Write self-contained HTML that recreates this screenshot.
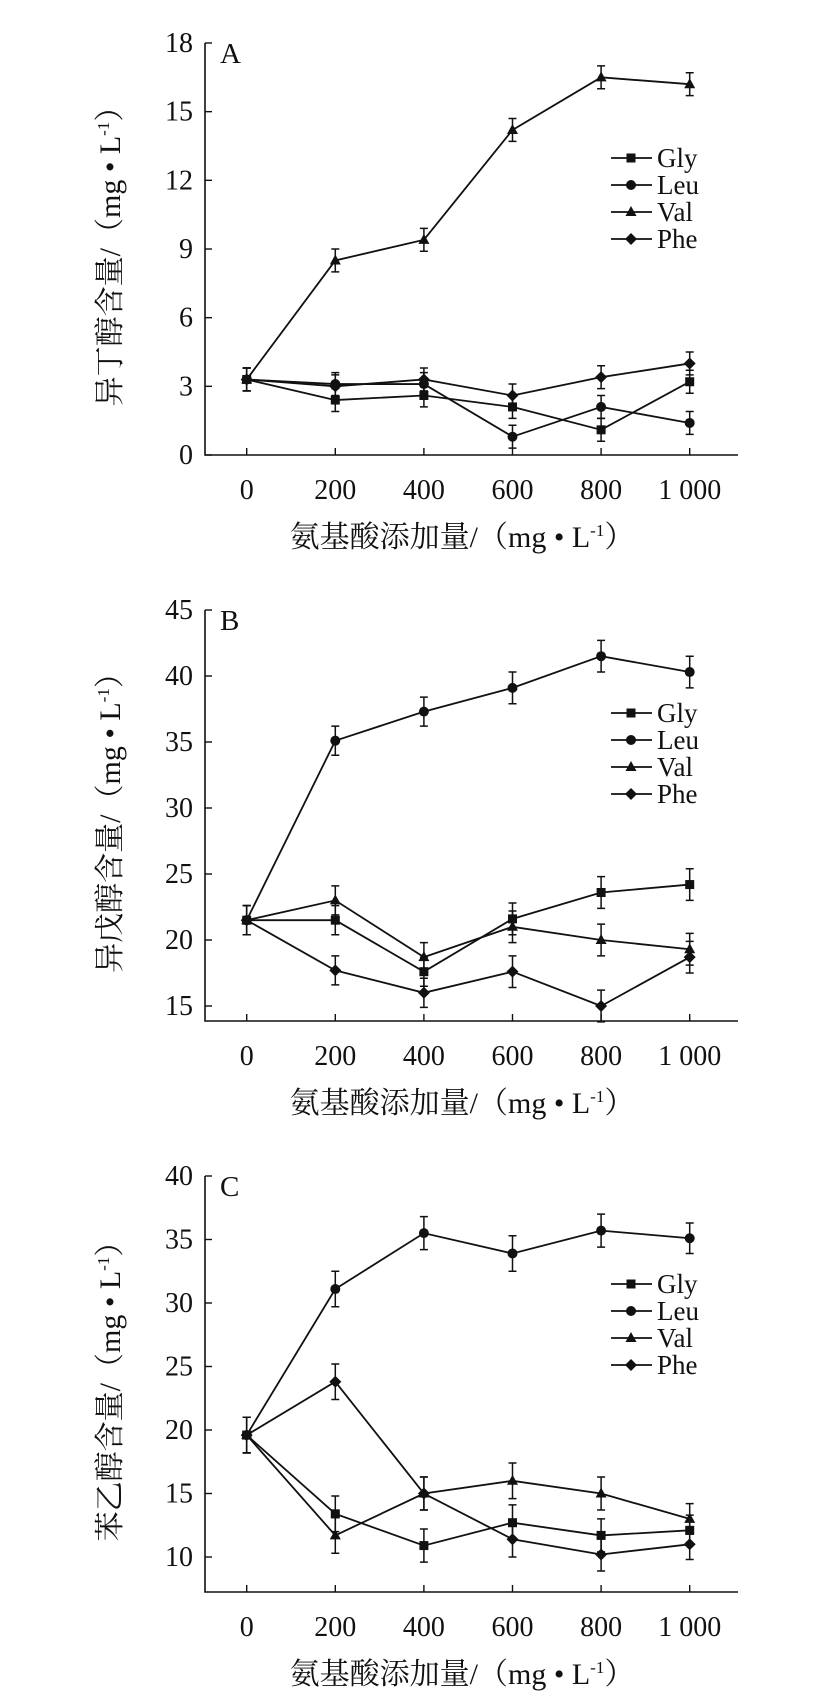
<!DOCTYPE html>
<html><head><meta charset="utf-8"><style>
body{margin:0;background:#fff}
svg text{font-family:"Liberation Serif","Noto Serif CJK SC",serif;fill:#111}
</style></head><body>
<svg id="s" width="820" height="1698" xmlns="http://www.w3.org/2000/svg"></svg>
<script>
const categories=[0,200,400,600,800,1000];
const tickLabelsX=["0","200","400","600","800","1 000"];
const seriesNames=["Gly","Leu","Val","Phe"];
const aGly=[3.3,2.4,2.6,2.1,1.1,3.2];
const aLeu=[3.3,3.1,3.1,0.8,2.1,1.4];
const aVal=[3.3,8.5,9.4,14.2,16.5,16.2];
const aPhe=[3.3,3.0,3.3,2.6,3.4,4.0];
const aErr=[0.5,0.5,0.5,0.5,0.5,0.5];
const aTicks=[0,3,6,9,12,15,18];
const bGly=[21.5,21.5,17.6,21.6,23.6,24.2];
const bLeu=[21.5,35.1,37.3,39.1,41.5,40.3];
const bVal=[21.5,23.0,18.7,21.0,20.0,19.3];
const bPhe=[21.5,17.7,16.0,17.6,15.0,18.7];
const bErr=[1.1,1.1,1.1,1.2,1.2,1.2];
const bTicks=[15,20,25,30,35,40,45];
const cGly=[19.6,13.4,10.9,12.7,11.7,12.1];
const cLeu=[19.6,31.1,35.5,33.9,35.7,35.1];
const cVal=[19.6,11.7,15.0,16.0,15.0,13.0];
const cPhe=[19.6,23.8,15.0,11.4,10.2,11.0];
const cErr=[1.4,1.4,1.3,1.4,1.3,1.2];
const cTicks=[10,15,20,25,30,35,40];

const S=document.getElementById('s');const NS='http://www.w3.org/2000/svg';
function mk(t,a,p){const e=document.createElementNS(NS,t);for(const k in a)e.setAttribute(k,a[k]);(p||S).appendChild(e);return e;}
function marker(g,type,x,y){
  if(type===0)return mk('rect',{x:x-4.5,y:y-4.5,width:9,height:9,fill:'#111'},g);
  if(type===1)return mk('circle',{cx:x,cy:y,r:5,fill:'#111'},g);
  if(type===2)return mk('path',{d:`M${x},${y-6}L${x+5.5},${y+4}L${x-5.5},${y+4}Z`,fill:'#111'},g);
  return mk('path',{d:`M${x},${y-6}L${x+6},${y}L${x},${y+6}L${x-6},${y}Z`,fill:'#111'},g);
}
function chart(cfg){
  const g=mk('g',{});
  
  
  const ax=205,x0=246.7,step=88.6,xr=738;
  const ymin=cfg.ticks[0],ymax=cfg.ticks[cfg.ticks.length-1];
  const Y=v=>cfg.yBot-(v-ymin)*(cfg.yBot-cfg.yTop)/(ymax-ymin);
  const X=i=>x0+i*step;
  const axis=mk('path',{d:`M${ax},${cfg.yTop}V${cfg.axisY}H${xr}`,stroke:'#111','stroke-width':1.6,fill:'none'},g);
  
  
  cfg.ticks.forEach(t=>{const y=Y(t);mk('line',{x1:ax,x2:ax+7,y1:y,y2:y,stroke:'#111','stroke-width':1.4},g);
    const tx=mk('text',{x:ax-12,y:y+9,'text-anchor':'end','font-size':28},g);tx.textContent=t;
    
    });
  categories.forEach((c,i)=>{const x=X(i);mk('line',{x1:x,x2:x,y1:cfg.axisY,y2:cfg.axisY-7,stroke:'#111','stroke-width':1.4},g);
    const tx=mk('text',{x:x,y:cfg.axisY+44,'text-anchor':'middle','font-size':28},g);tx.textContent=tickLabelsX[i];
    
    });
  const xt=mk('text',{x:462,y:cfg.axisY+92,'text-anchor':'middle','font-size':30},g);
  xt.innerHTML='氨基酸添加量/（mg • L<tspan dy="-11" font-size="17">-1</tspan><tspan dy="11">）</tspan>';
  
  
  const yc=(cfg.yTop+cfg.axisY)/2;
  const yt=mk('text',{x:0,y:0,'text-anchor':'middle','font-size':30,transform:`translate(120,${yc}) rotate(-90)`},g);
  yt.innerHTML=cfg.ytitle+'/（mg • L<tspan dy="-11" font-size="17">-1</tspan><tspan dy="11">）</tspan>';
  
  
  const pl=mk('text',{x:220,y:cfg.yTop+20,'font-size':29},g);pl.textContent=cfg.letter;
  
  
  cfg.series.forEach((d,si)=>{
    const sg=mk('g',{},g);
    
    
    mk('polyline',{points:d.map((v,i)=>X(i)+','+Y(v)).join(' '),fill:'none',stroke:'#111','stroke-width':1.8},sg);
    d.forEach((v,i)=>{const x=X(i),e=cfg.err[i];
      const eb=mk('path',{d:`M${x},${Y(v-e)}V${Y(v+e)}M${x-4},${Y(v-e)}H${x+4}M${x-4},${Y(v+e)}H${x+4}`,stroke:'#111','stroke-width':1.5,fill:'none'},sg);
      
      
      const m=marker(sg,si,x,Y(v));
      
      });
  });
  const lg=mk('g',{},g);
  
  
  seriesNames.forEach((n,i)=>{const y=cfg.legY+i*27;
    const le=mk('g',{},lg);
    
    
    mk('line',{x1:611,x2:652,y1:y,y2:y,stroke:'#111','stroke-width':1.8},le);
    marker(le,i,631,y);
    const t=mk('text',{x:657,y:y+9,'font-size':27},le);t.textContent=n;});
}
chart({name:'chart-a',letter:'A',ytitle:'异丁醇含量',ticks:aTicks,yTop:43,yBot:455,axisY:455,series:[aGly,aLeu,aVal,aPhe],err:aErr,legY:158});
chart({name:'chart-b',letter:'B',ytitle:'异戊醇含量',ticks:bTicks,yTop:610,yBot:1006,axisY:1021,series:[bGly,bLeu,bVal,bPhe],err:bErr,legY:713});
chart({name:'chart-c',letter:'C',ytitle:'苯乙醇含量',ticks:cTicks,yTop:1176,yBot:1557,axisY:1592,series:[cGly,cLeu,cVal,cPhe],err:cErr,legY:1284});
</script>
</body></html>
